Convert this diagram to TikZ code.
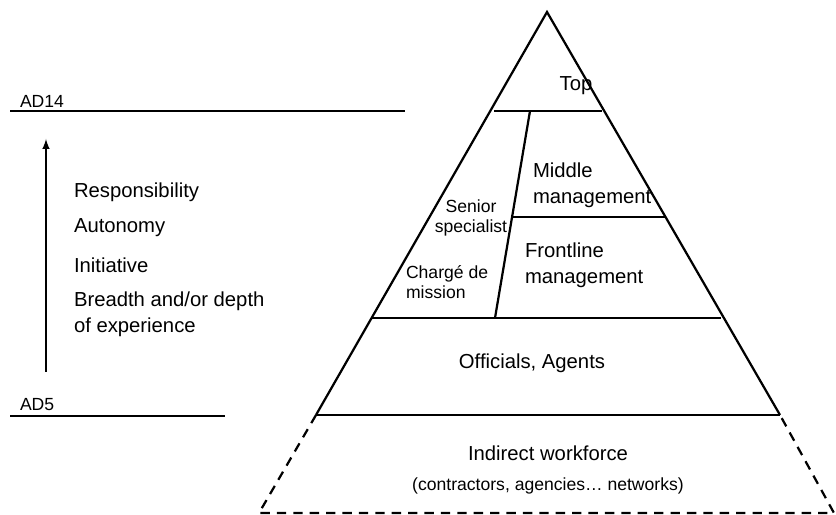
\documentclass[tikz,border=0pt]{standalone}
\usepackage{fontspec}
\setmainfont{Liberation Sans}

\begin{document}
\begin{tikzpicture}[x=0.03cm,y=-0.03cm,line width=1.9pt,
  big/.style={font=\fontsize{17.3}{22}\selectfont},
  small/.style={font=\fontsize{15}{17}\selectfont}]
  \useasboundingbox (0,0) rectangle (836,515);

  % pyramid
  \coordinate (apex) at (547,12);
  \draw (316,415) -- (apex) -- (780,415);
  \draw[dash pattern=on 8pt off 6pt] (316,415) -- (259,513) -- (834,513) -- (780,415);
  \draw (494,111) -- (602,111);
  \draw (512,217) -- (665,217);
  \draw (372,318) -- (721,318);
  \draw (316,415) -- (780,415);
  \draw (530,111) -- (495,318);

  \node[big] (top) at (576,86) {Top};
  \node[big,anchor=west,align=left] (middle) at (528,185) {Middle\\management};
  \node[big,anchor=west,align=left] (frontline) at (520,265) {Frontline\\management};
  \node[small,align=center] (senior) at (471,218) {Senior\\specialist};
  \node[small,anchor=west,align=left] (charge) at (401,282) {Chargé de\\mission};
  \node[big] (officials) at (532,363) {Officials, Agents};
  \node[big] (indirect) at (548,453) {Indirect workforce};
  \node[small] (contractors) at (548,486) {(contractors, agencies\dots\ networks)};

  % grade scale
  \draw (10,111) -- (405,111);
  \draw (10,416) -- (225,416);
  \node[small,anchor=west] (ad14) at (15,101) {AD14};
  \node[small,anchor=west] (ad5) at (15,405) {AD5};
  \coordinate (low) at (46,372);
  \coordinate (high) at (46,139);
  \draw[-latex] (low) -- (high);

  \node[big,anchor=west] (resp) at (69,192) {Responsibility};
  \node[big,anchor=west] (auto) at (69,228) {Autonomy};
  \node[big,anchor=west] (init) at (69,265) {Initiative};
  \node[big,anchor=west,align=left] (breadth) at (69,314) {Breadth and/or depth\\of experience};
\end{tikzpicture}
\end{document}
